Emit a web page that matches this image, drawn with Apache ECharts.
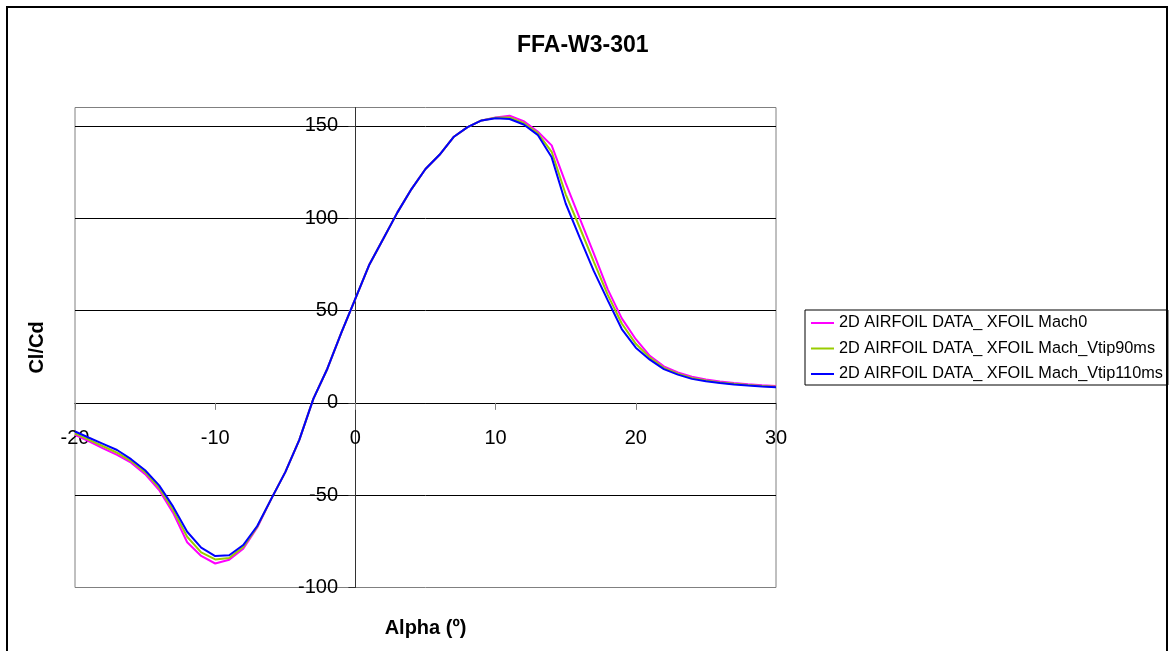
<!DOCTYPE html>
<html>
<head>
<meta charset="utf-8">
<title>FFA-W3-301</title>
<script src="https://cdn.jsdelivr.net/npm/echarts@6/dist/echarts.min.js"></script>
<style>
  html, body { margin: 0; padding: 0; background: #fff; }
  #chart { width: 1174px; height: 651px; }
</style>
</head>
<body>
<div id="chart"></div>
<script>
// Angle of attack (degrees)
const alpha = [
  -20, -19, -18, -17, -16, -15, -14, -13, -12, -11, -10, -9, -8, -7, -6, -5, -4, -3, -2, -1,
  0, 1, 2, 3, 4, 5, 6, 7, 8, 9, 10, 11, 12, 13, 14, 15, 16, 17, 18, 19,
  20, 21, 22, 23, 24, 25, 26, 27, 28, 29, 30
];

// Lift-to-drag ratio Cl/Cd, XFOIL, Mach 0
const clcdMach0 = [
  -17.3, -20.9, -24.6, -28.2, -32.4, -38.6, -47.2, -59.6, -75.5, -82.9, -87.0, -85.0, -79.0, -67.5, -52.0, -37.5, -20.0, 2.2, 18.5, 38.0,
  56.5, 75.0, 89.0, 103.2, 115.8, 126.7, 134.4, 144.0, 149.4, 153.0, 154.6, 155.5, 152.6, 147.0, 139.5, 119.0, 100.0, 81.0, 61.5, 45.8,
  34.5, 25.5, 19.8, 16.5, 14.2, 12.7, 11.6, 10.8, 10.1, 9.6, 9.2
];

// Cl/Cd, XFOIL, Mach at tip speed 90 m/s
const clcdVtip90 = [
  -16.5, -20.0, -23.5, -27.0, -31.5, -37.5, -46.0, -58.0, -72.5, -81.0, -84.8, -84.0, -78.0, -67.0, -52.0, -37.5, -20.0, 2.2, 18.5, 38.0,
  56.5, 75.0, 89.0, 103.2, 115.8, 126.7, 134.4, 144.0, 149.4, 153.0, 154.4, 154.6, 151.6, 146.2, 136.0, 113.0, 95.0, 76.5, 58.5, 43.0,
  32.0, 24.5, 19.0, 15.8, 13.5, 12.1, 11.1, 10.3, 9.7, 9.2, 8.8
];

// Cl/Cd, XFOIL, Mach at tip speed 110 m/s
const clcdVtip110 = [
  -15.5, -18.9, -22.2, -25.5, -30.5, -36.5, -44.7, -56.2, -69.8, -78.4, -83.0, -82.5, -77.0, -66.7, -52.0, -37.5, -20.0, 2.2, 18.5, 38.0,
  56.5, 75.0, 89.0, 103.2, 115.8, 126.7, 134.4, 144.0, 149.4, 153.0, 154.2, 153.8, 150.8, 145.2, 133.0, 108.0, 89.5, 71.5, 55.5, 40.0,
  29.9, 23.4, 18.3, 15.3, 13.0, 11.7, 10.8, 10.0, 9.4, 8.9, 8.5
];

const seriesNames = [
  '2D AIRFOIL DATA_ XFOIL Mach0',
  '2D AIRFOIL DATA_ XFOIL Mach_Vtip90ms',
  '2D AIRFOIL DATA_ XFOIL Mach_Vtip110ms'
];
const seriesColors = ['#FF00FF', '#99CC00', '#0000FF'];
const seriesValues = [clcdMach0, clcdVtip90, clcdVtip110];

const yTickValues = [-100, -50, 0, 50, 100, 150];

const FONT = "'Liberation Sans', Arial, sans-serif";

const chart = echarts.init(document.getElementById('chart'), null, { renderer: 'canvas' });

chart.setOption({
  backgroundColor: '#ffffff',
  animation: false,
  title: {
    text: 'FFA-W3-301',
    left: 517,
    top: 34,
    padding: 0,
    textStyle: { fontFamily: FONT, fontSize: 23, fontWeight: 'bold', color: '#000' }
  },
  legend: {
    orient: 'vertical',
    left: 805,
    top: 310,
    padding: [5, 5, 3, 6],
    itemGap: 9.5,
    itemWidth: 23,
    itemHeight: 2,
    icon: 'rect',
    borderColor: '#000',
    borderWidth: 1,
    textStyle: { fontFamily: FONT, fontSize: 16.3, color: '#000', lineHeight: 16 },
    data: seriesNames
  },
  grid: {
    left: 75,
    right: 398,
    top: 107.5,
    bottom: 63.5,
    show: true,
    borderColor: '#808080',
    borderWidth: 1,
    backgroundColor: 'transparent',
    containLabel: false,
    outerBoundsMode: 'none'
  },
  xAxis: {
    type: 'value',
    min: -20,
    max: 30,
    interval: 10,
    name: 'Alpha (º)',
    nameLocation: 'middle',
    nameGap: 31,
    nameTextStyle: { fontFamily: FONT, fontSize: 20, fontWeight: 'bold', color: '#000' },
    axisLine: { onZero: true, lineStyle: { color: '#000', width: 1 } },
    axisTick: { show: true, length: 7, lineStyle: { color: '#808080' } },
    // tick labels sit just below the zero line
    axisLabel: { margin: -159, fontFamily: FONT, fontSize: 20, color: '#000' },
    splitLine: { show: false }
  },
  yAxis: {
    type: 'value',
    min: -100,
    max: 160,
    interval: 50,
    name: 'Cl/Cd',
    nameLocation: 'middle',
    nameRotate: 90,
    nameGap: 28,
    nameTextStyle: { fontFamily: FONT, fontSize: 20, fontWeight: 'bold', color: '#000' },
    axisLine: { onZero: true, lineStyle: { color: '#333', width: 1 } },
    axisTick: { show: true, length: 7, customValues: yTickValues, lineStyle: { color: '#333' } },
    // tick labels sit just left of the vertical zero line
    axisLabel: {
      margin: -263,
      fontFamily: FONT,
      fontSize: 20,
      color: '#000',
      customValues: yTickValues
    },
    splitLine: { show: true, showMinLine: false, lineStyle: { color: '#000', width: 1 } }
  },
  graphic: [{
    type: 'rect',
    shape: { x: 7, y: 7, width: 1160, height: 700 },
    style: { fill: 'none', stroke: '#000', lineWidth: 2 },
    silent: true,
    z: 100
  }],
  series: seriesNames.map((name, i) => ({
    name: name,
    type: 'line',
    data: alpha.map((a, k) => [a, seriesValues[i][k]]),
    symbol: 'none',
    smooth: false,
    lineStyle: { color: seriesColors[i], width: 2 },
    itemStyle: { color: seriesColors[i] },
    z: 2 + i
  }))
});
</script>
</body>
</html>
